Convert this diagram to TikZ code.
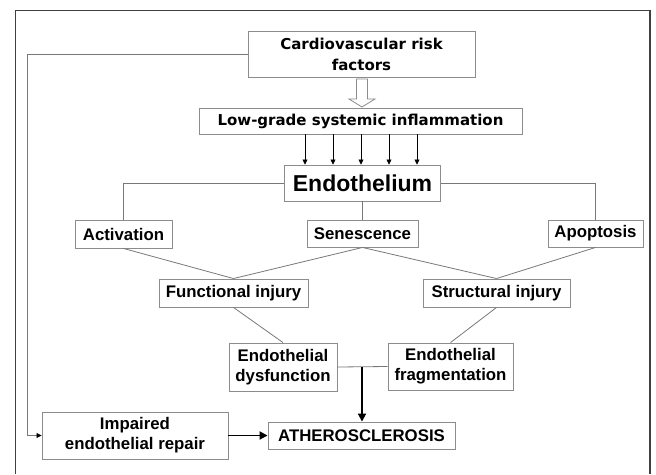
\documentclass[tikz,border=0pt]{standalone}
\usepackage{fontspec}
\setmainfont{Liberation Sans}
\newfontfamily\verd{DejaVu Sans}
\usetikzlibrary{arrows.meta}
\definecolor{boxc}{HTML}{8C8C8C}
\definecolor{linec}{HTML}{787878}
\definecolor{framec}{HTML}{404040}
\tikzset{
  bx/.style={draw=boxc, line width=0.9pt, inner sep=0pt, align=center, fill=white,
    font=\fontsize{16.8}{20}\selectfont\bfseries},
  vbx/.style={bx, font=\verd\fontsize{15}{21}\selectfont\bfseries},
  conn/.style={draw=linec, line width=0.8pt},
  thin arrow/.style={draw=black, line width=0.7pt, -{Triangle[length=5pt,width=5pt]}},
  thick arrow/.style={draw=black, line width=1.8pt, -{Triangle[length=8pt,width=8pt]}},
  fb arrow/.style={draw=linec, line width=0.8pt, -{Triangle[length=5pt,width=5pt,fill=black,color=black]}},
}
\begin{document}
\begin{tikzpicture}[x=1pt,y=-1pt]
\useasboundingbox (0,0) rectangle (656,474);
% outer frame
\draw[framec, line width=1.2pt] (15.5,474) -- (15.5,10.7) -- (650,10.7) -- (650,474);

\node[vbx, minimum width=227pt, minimum height=46pt] (cardio) at (361.5,54) {Cardiovascular risk\\factors};
\node[vbx, minimum width=323pt, minimum height=26pt] (low) at (360.5,121) {Low-grade systemic inflammation};
\node[bx, minimum width=156pt, minimum height=36pt, font=\fontsize{23}{26}\selectfont\bfseries] (endo) at (362.5,183) {Endothelium};
\node[bx, minimum width=97pt, minimum height=28pt] (act) at (123.5,234) {Activation};
\node[bx, minimum width=111pt, minimum height=27pt] (sen) at (362.5,233.5) {Senescence};
\node[bx, minimum width=95pt, minimum height=27pt] (apo) at (595.5,233.5) {Apoptosis};
\node[bx, minimum width=149pt, minimum height=28pt] (fun) at (233.5,293) {Functional injury};
\node[bx, minimum width=147pt, minimum height=28pt] (str) at (496.5,293) {Structural injury};
\node[bx, minimum width=108pt, minimum height=48pt] (dys) at (283,367) {Endothelial\\dysfunction};
\node[bx, minimum width=125pt, minimum height=47pt] (frag) at (450.5,366.5) {Endothelial\\fragmentation};
\node[bx, minimum width=186pt, minimum height=47pt] (imp) at (135,435.5) {Impaired\\endothelial repair};
\node[bx, minimum width=187pt, minimum height=27pt] (ath) at (361.5,435.5) {ATHEROSCLEROSIS};

% hollow arrow
\draw[boxc, line width=0.8pt, fill=white]
  (356.5,79) -- (367.5,79) -- (367.5,99) -- (375,99) -- (362,107) -- (349,99) -- (356.5,99) -- cycle;

% five small arrows
\foreach \dx in {-56,-28,0,28,56}
  \draw[thin arrow] ([xshift=\dx pt]low.south -| 361,0) -- ([xshift=\dx pt]endo.north -| 361,0);

% feedback line
\coordinate (fb) at (27,54);
\draw[fb arrow] (cardio.west) -- (cardio.west -| fb) |- (imp.west);

% tree connectors
\draw[conn] (endo.west) -| (act.north);
\draw[conn] (endo.east) -| (apo.north);
\draw[conn] (endo.south) -- (sen.north);
\draw[conn] (act.south) -- (fun.north);
\draw[conn] (sen.south) -- (fun.north);
\draw[conn] (sen.south) -- (str.north);
\draw[conn] (apo.south) -- (str.north);
\draw[conn] (fun.south) -- (dys.north);
\draw[conn] (str.south) -- (frag.north);
\draw[conn] (dys.east) -- (frag.west);
\coordinate (j) at (362,367);
\draw[thick arrow] (j) -- (j |- ath.north);
\draw[thick arrow] (imp.east) -- (ath.west);
\end{tikzpicture}
\end{document}
